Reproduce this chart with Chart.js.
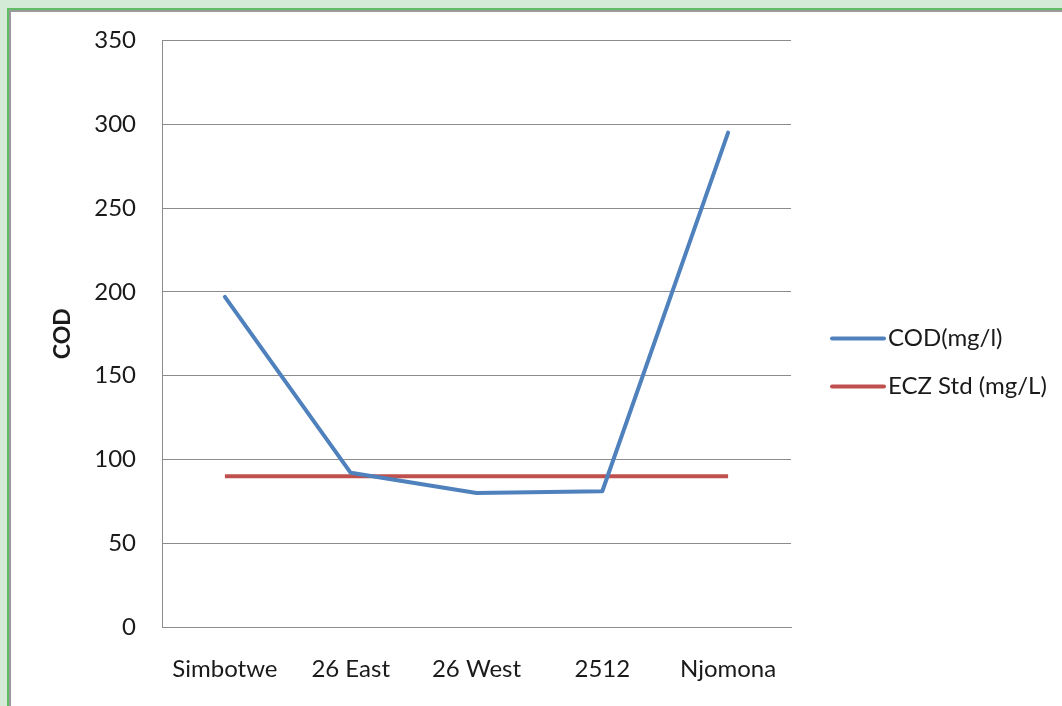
<!DOCTYPE html>
<html>
<head>
<meta charset="utf-8">
<script src="https://cdn.jsdelivr.net/npm/chart.js@4/dist/chart.umd.min.js"></script>
<style>
  html, body { margin: 0; padding: 0; width: 1062px; height: 706px; overflow: hidden; background: #d4ebd7; }
  #frame { position: absolute; left: 7px; top: 8px; width: 1055px; height: 698px; border-left: 2px solid #62bc66; border-top: 2px solid #62bc66; box-sizing: border-box; background: #9b9b9b; }
  #inner { position: absolute; left: 2px; top: 2px; right: 0; bottom: 0; background: #ffffff; }
  #wrap { position: absolute; left: 0; top: 0; width: 1062px; height: 706px; }
</style>
</head>
<body>
<div id="frame"><div id="inner"></div></div>
<div id="wrap"><canvas id="c" width="1062" height="706"></canvas></div>
<script>
const categories = ["Simbotwe", "26 East", "26 West", "2512", "Njomona"];
const codValues = [197, 92, 80, 81, 295];
const eczStdValues = [90, 90, 90, 90, 90];
const seriesNames = ["COD(mg/l)", "ECZ Std (mg/L)"];
const yTicks = [0, 50, 100, 150, 200, 250, 300, 350];
const yTitle = "COD";

const FONT = "Lato, 'Open Sans', sans-serif";
const TEXT = '#1a1a1a';

const lineLegend = {
  id: 'lineLegend',
  afterDraw(chart) {
    const ctx = chart.ctx;
    const a = chart.chartArea;
    const x0 = a.right + 41;
    const yStart = a.top + 298;
    ctx.save();
    chart.data.datasets.forEach((ds, i) => {
      const y = yStart + i * 48;
      ctx.strokeStyle = ds.borderColor;
      ctx.lineWidth = 4;
      ctx.lineCap = 'round';
      ctx.beginPath();
      ctx.moveTo(x0, y);
      ctx.lineTo(x0 + 52, y);
      ctx.stroke();
      ctx.fillStyle = TEXT;
      ctx.font = "24px " + FONT;
      ctx.textBaseline = 'middle';
      ctx.textAlign = 'left';
      ctx.fillText(ds.label, x0 + 56, y);
    });
    ctx.restore();
  }
};

new Chart(document.getElementById('c'), {
  type: 'line',
  data: {
    labels: categories,
    datasets: [
      { label: seriesNames[0], data: codValues, borderColor: '#4f81bd', backgroundColor: '#4f81bd', borderWidth: 4, pointRadius: 0, tension: 0, borderCapStyle: 'round', borderJoinStyle: 'round' },
      { label: seriesNames[1], data: eczStdValues, borderColor: '#c0504d', backgroundColor: '#c0504d', borderWidth: 4, pointRadius: 0, tension: 0, borderCapStyle: 'butt' }
    ]
  },
  options: {
    responsive: false,
    animation: false,
    devicePixelRatio: 1,
    layout: { padding: { left: 0, top: 40, right: 271, bottom: 0 } },
    plugins: { legend: { display: false }, tooltip: { enabled: false } },
    scales: {
      x: {
        offset: true,
        grid: { display: false, drawTicks: false },
        border: { display: true, color: '#8c8c8c', width: 1 },
        ticks: { color: TEXT, font: { family: FONT, size: 24 }, padding: 28, maxRotation: 0 },
        afterFit(scale) { scale.height = 79; }
      },
      y: {
        min: 0, max: 350,
        afterBuildTicks(scale) { scale.ticks = yTicks.map(v => ({ value: v })); },
        grid: { color: '#8c8c8c', lineWidth: 1, drawTicks: false },
        border: { display: true, color: '#8c8c8c', width: 1 },
        ticks: { color: TEXT, font: { family: FONT, size: 24 }, padding: 26 },
        title: { display: true, text: yTitle, color: TEXT, font: { family: FONT, size: 23, weight: 'bold' }, padding: { top: 49, bottom: 0 } },
        afterFit(scale) { scale.width = 162; }
      }
    }
  },
  plugins: [lineLegend]
});
</script>
</body>
</html>
